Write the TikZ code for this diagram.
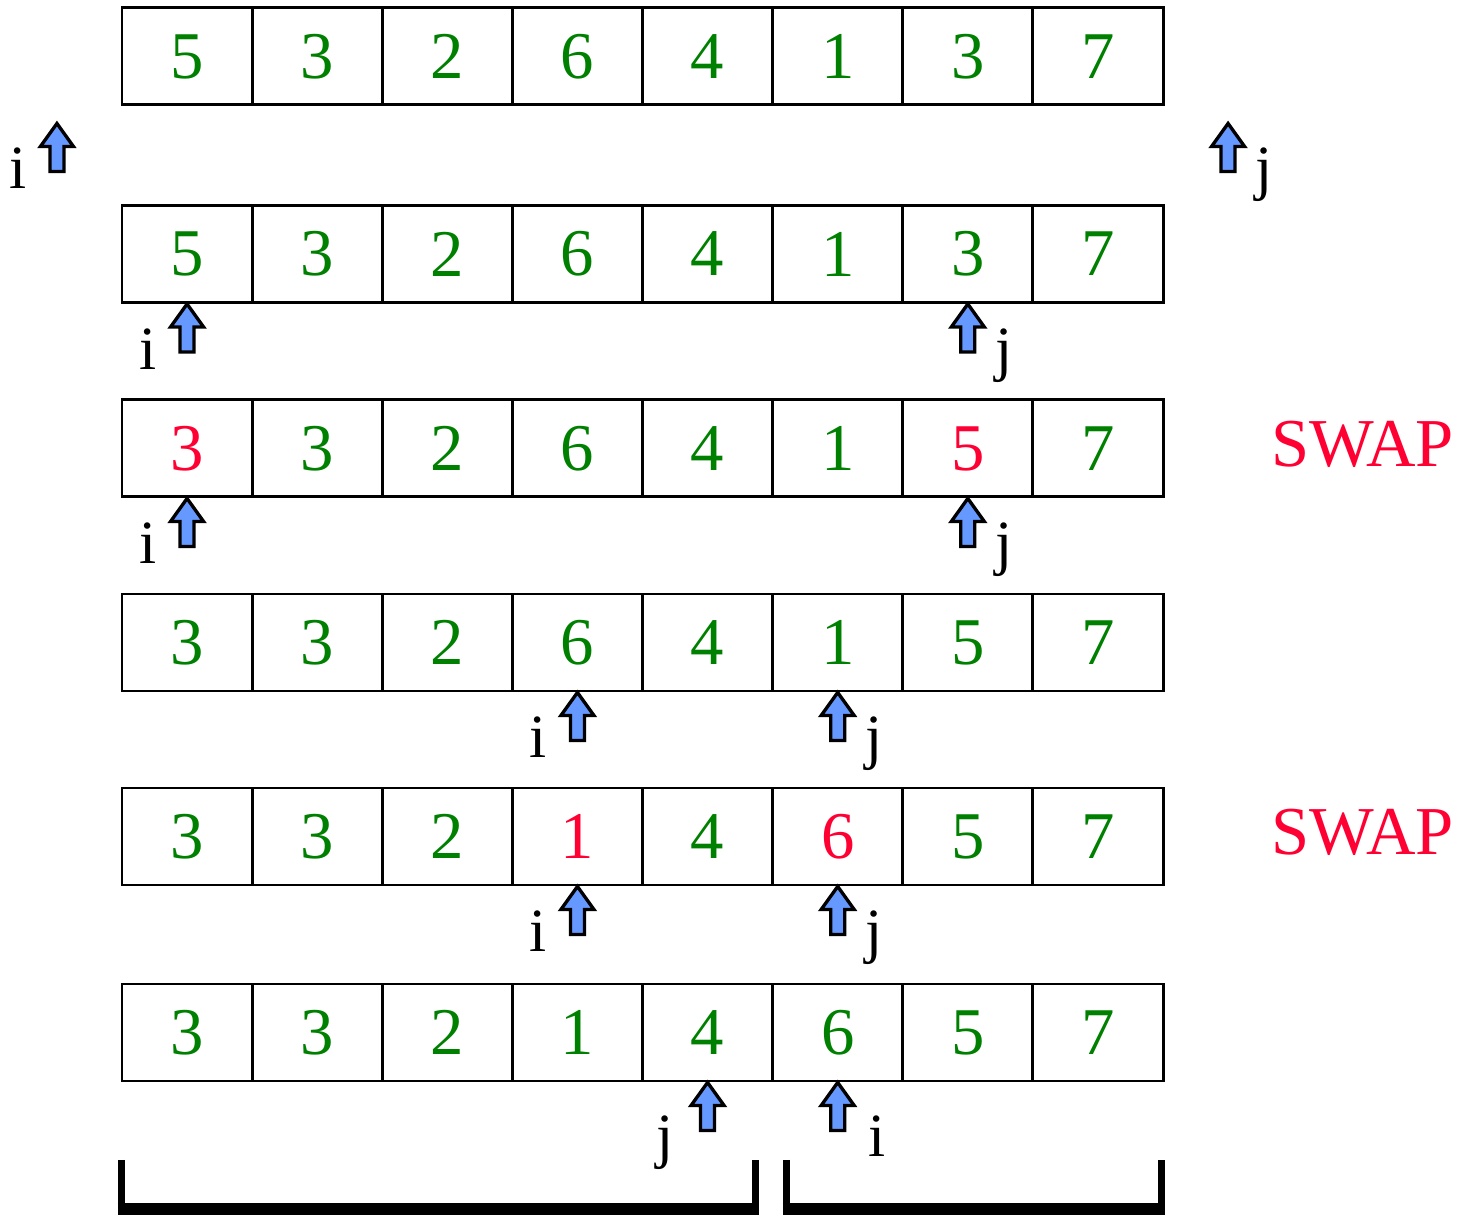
\documentclass[tikz,border=0pt]{standalone}
\usepackage{fontspec}
\setmainfont{Liberation Serif}
\usetikzlibrary{positioning,calc}
\definecolor{numgreen}{RGB}{0,128,0}
\definecolor{swapred}{RGB}{255,0,51}
\definecolor{ptrblue}{RGB}{102,153,255}
\tikzset{
  cell/.style   ={rectangle, draw=black, line width=0.85pt, minimum width=1.30125cm,
                  minimum height=0.97cm, inner sep=0pt, font=\fontsize{19}{20}\selectfont},
  numg/.style   ={text=numgreen},
  numr/.style   ={text=swapred},
  ptr/.style    ={draw=black, fill=ptrblue, line width=0.95pt, line join=miter},
  lbl/.style    ={font=\fontsize{17.5}{18}\selectfont, anchor=base, inner sep=0pt},
  swaptxt/.style={text=swapred, font=\fontsize{19.5}{21}\selectfont, anchor=base, inner sep=0pt},
  brk/.style    ={line width=0.07cm, draw=black},
  brkbar/.style ={line width=0.12cm, draw=black},
}

\begin{document}
\begin{tikzpicture}
\useasboundingbox (0,0) rectangle (14.6,-12.16);

% the six states of the array
\foreach \r/\y/\vals in {
  1/-0.565/{5/numg,3/numg,2/numg,6/numg,4/numg,1/numg,3/numg,7/numg},
  2/-2.54/{5/numg,3/numg,2/numg,6/numg,4/numg,1/numg,3/numg,7/numg},
  3/-4.485/{3/numr,3/numg,2/numg,6/numg,4/numg,1/numg,5/numr,7/numg},
  4/-6.425/{3/numg,3/numg,2/numg,6/numg,4/numg,1/numg,5/numg,7/numg},
  5/-8.365/{3/numg,3/numg,2/numg,1/numr,4/numg,6/numr,5/numg,7/numg},
  6/-10.325/{3/numg,3/numg,2/numg,1/numg,4/numg,6/numg,5/numg,7/numg}}
{
  \foreach \v/\c [count=\k] in \vals
    \node[cell, \c] (c\r-\k) at ({1.22+1.30125*(\k-0.5)}, \y) {\v};
}

% pointers i and j (tips)
\coordinate (pi1) at ([xshift=-1.30125cm, yshift=-0.17cm]c1-1.south);
\coordinate (pj1) at ([xshift=1.30125cm, yshift=-0.17cm]c1-8.south);
\coordinate (pi2) at (c2-1.south);
\coordinate (pj2) at (c2-7.south);
\coordinate (pi3) at (c3-1.south);
\coordinate (pj3) at (c3-7.south);
\coordinate (pi4) at (c4-4.south);
\coordinate (pj4) at (c4-6.south);
\coordinate (pi5) at (c5-4.south);
\coordinate (pj5) at (c5-6.south);
\coordinate (pj6) at (c6-5.south);
\coordinate (pi6) at (c6-6.south);

\foreach \p in {pi1,pj1,pi2,pj2,pi3,pj3,pi4,pj4,pi5,pj5,pi6,pj6}
  \draw[ptr] (\p) -- ++(-0.165,-0.23) -- ++(0.095,0) -- ++(0,-0.25)
             -- ++(0.14,0) -- ++(0,0.25) -- ++(0.095,0) -- cycle;

\foreach \n in {1,...,5}{
  \node[lbl] (li\n) at ([shift={(-0.39cm,-0.655cm)}]pi\n) {i};
  \node[lbl] (lj\n) at ([shift={(0.36cm,-0.655cm)}]pj\n) {j};
}
\node[lbl] (lj6) at ([shift={(-0.43cm,-0.74cm)}]pj6) {j};
\node[lbl] (li6) at ([shift={(0.39cm,-0.74cm)}]pi6) {i};

% swaps
\node[swaptxt] (sw3) at ([xshift=1.98cm, yshift=-0.185cm]c3-8.east) {SWAP};
\node[swaptxt] (sw5) at ([xshift=1.98cm, yshift=-0.185cm]c5-8.east) {SWAP};

% the two parts
\draw[brk] (1.21,-11.60) -- (1.21,-12.09) -- (7.55,-12.09) -- (7.55,-11.60);
\draw[brkbar] (1.175,-12.09) -- (7.585,-12.09);
\draw[brk] (7.86,-11.60) -- (7.86,-12.09) -- (11.61,-12.09) -- (11.61,-11.60);
\draw[brkbar] (7.825,-12.09) -- (11.645,-12.09);
\end{tikzpicture}
\end{document}
